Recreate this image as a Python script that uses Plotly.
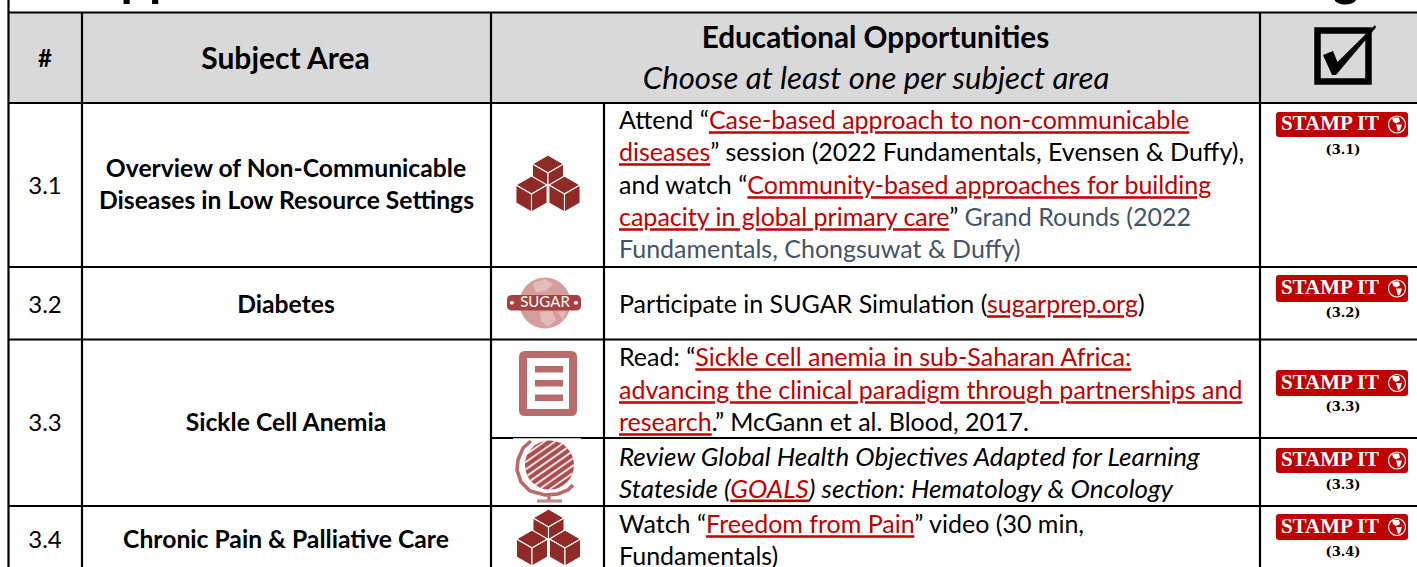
import math
import plotly.graph_objects as go

W, H = 1417, 567
BODY = "Lato"
RED = "#c00000"
SLATE = "#44546a"
MAROON = "#8f2a26"
ROSE = "#b96b6a"
TEXT_DY = 2

# table geometry
COL_EDGES = [8.5, 82, 491, 1260]
COL_SPLIT = 604
ROW_EDGES = [12.5, 103, 267, 339.5, 506]
ROW_SPLIT = 438
HEADER_FILL = "#d9d9d9"

# text
def link(s):
    return f'<span style="color:{RED}"><u>{s}</u></span>'

def slate(s):
    return f'<span style="color:{SLATE}">{s}</span>'

HEAD_BOLD = [("#", 45, 59, 24), ("Subject Area", 285.5, 59, 30), ("Educational Opportunities", 875.5, 39, 29.7)]
HEAD_ITALIC = [("<i>Choose at least one per subject area</i>", 876, 79, 31.2)]
NUMBERS = [("3.1", 45, 186), ("3.2", 45, 305), ("3.3", 45, 423), ("3.4", 45, 540)]
SUBJECTS = [
    ("Overview of Non-Communicable", 286, 169),
    ("Diseases in Low Resource Settings", 286.5, 201),
    ("Diabetes", 286, 305),
    ("Sickle Cell Anemia", 286, 423),
    ("Chronic Pain & Palliative Care", 286, 540),
]
BODY_LINES = [
    ("Attend “" + link("Case-based approach to non-communicable"), 121),
    (link("diseases") + "” session (2022 Fundamentals, Evensen & Duffy),", 153),
    ("and watch “" + link("Community-based approaches for building"), 186),
    (link("capacity in global primary care") + "” " + slate("Grand Rounds (2022"), 218),
    (slate("Fundamentals, Chongsuwat & Duffy)"), 250),
    ("Participate in SUGAR Simulation (" + link("sugarprep.org") + ")", 305),
    ("Read: “" + link("Sickle cell anemia in sub-Saharan Africa:"), 358),
    (link("advancing the clinical paradigm through partnerships and"), 391),
    (link("research") + ".” McGann et al. Blood, 2017.", 423),
    ("Watch “" + link("Freedom from Pain") + "” video (30 min,", 525),
    ("Fundamentals)", 557),
]
ITALIC_LINES = [
    ("<i>Review Global Health Objectives Adapted for Learning</i>", 457),
    ("<i>Stateside (</i>" + "<i>" + link("GOALS") + "</i><i>) section: Hematology & Oncology</i>", 489),
]
BODY_X = 619
TITLE_FRAGMENTS = [("pp", 149, -19), ("g", 1346, -19)]

# stamps: (top, bottom, label, label_y)
STAMPS = [(112, 137, "(3.1)", 151), (275, 302, "(3.2)", 314), (370, 396, "(3.3)", 408),
          (448, 473, "(3.3)", 486), (514, 540, "(3.4)", 553)]
STAMP_LEFT, STAMP_RIGHT = 1276, 1408

# globe stand outline
GLOBE_ARC = [(531, 441), (523, 448), (518, 460), (517, 470), (521, 482), (530, 491),
             (545, 495), (558, 494), (568, 490), (573, 485)]

shapes = []

def rect(x0, y0, x1, y1, fill, line=None, lw=0):
    shapes.append(dict(type="rect", x0=x0, y0=y0, x1=x1, y1=y1, fillcolor=fill,
                       line=dict(color=line or fill, width=lw), layer="below"))

def seg(x0, y0, x1, y1, color="#000000", lw=2.2):
    shapes.append(dict(type="line", x0=x0, y0=y0, x1=x1, y1=y1,
                       line=dict(color=color, width=lw), layer="below"))

def poly(pts, fill, line=None, lw=0):
    d = "M" + " L".join(f"{x:.2f},{y:.2f}" for x, y in pts) + " Z"
    shapes.append(dict(type="path", path=d, fillcolor=fill,
                       line=dict(color=line or fill, width=lw), layer="below"))

def circle(cx, cy, r, fill, line=None, lw=0):
    shapes.append(dict(type="circle", x0=cx - r, y0=cy - r, x1=cx + r, y1=cy + r, fillcolor=fill,
                       line=dict(color=line or fill, width=lw), layer="below"))

def rounded(x0, y0, x1, y1, r, fill):
    d = (f"M{x0+r},{y0} L{x1-r},{y0} Q{x1},{y0} {x1},{y0+r} L{x1},{y1-r} Q{x1},{y1} {x1-r},{y1} "
         f"L{x0+r},{y1} Q{x0},{y1} {x0},{y1-r} L{x0},{y0+r} Q{x0},{y0} {x0+r},{y0} Z")
    shapes.append(dict(type="path", path=d, fillcolor=fill, line=dict(color=fill, width=0), layer="below"))

# header band
rect(COL_EDGES[0], ROW_EDGES[0], W, ROW_EDGES[1], HEADER_FILL)

# check box
rect(1317.5, 30.5, 1368.5, 81.5, HEADER_FILL, "#000000", 6.5)
poly([(1323, 55), (1333, 51), (1337.5, 62), (1375, 25), (1376, 27.5), (1336, 75), (1332, 75)], "#000000")

# cubes
def cube(cx, cy, r):
    w = r * math.sqrt(3) / 2
    top = [(cx, cy - r), (cx + w, cy - r / 2), (cx, cy), (cx - w, cy - r / 2)]
    left = [(cx - w, cy - r / 2), (cx, cy), (cx, cy + r), (cx - w, cy + r / 2)]
    right = [(cx + w, cy - r / 2), (cx, cy), (cx, cy + r), (cx + w, cy + r / 2)]
    for f in (top, left, right):
        poly(f, MAROON, "#ffffff", 1.1)

def cubes(cx, top):
    r = 18
    cube(cx, top + r, r)
    cube(cx - 16.5, top + r + 21, r)
    cube(cx + 16.5, top + r + 21, r)

cubes(548, 155)
cubes(548.5, 509)

# sugar globe
circle(545, 303, 25.5, "#d59e9b")
poly([(533, 283), (545, 279), (553, 284), (546, 291), (536, 292)], "#e3bcba")
poly([(540, 312), (552, 311), (556, 320), (548, 327), (541, 321)], "#e3bcba")
poly([(558, 312), (566, 311), (563, 320)], "#e3bcba")
rounded(507, 295, 581, 310.5, 5, "#a5423f")

# document
rounded(519, 351, 577, 416, 6, ROSE)
rect(527, 358, 569, 409, "#ffffff")
for bar_top in (366, 380, 394.5):
    rect(535, bar_top, 563, bar_top + 6.5, ROSE)

# grid lines
for x in COL_EDGES:
    seg(x, 0 if x == COL_EDGES[0] else ROW_EDGES[0], x, H)
seg(COL_SPLIT, ROW_EDGES[1], COL_SPLIT, H)
for y in ROW_EDGES:
    seg(COL_EDGES[0], y, W, y)
seg(COL_EDGES[2], ROW_SPLIT, W, ROW_SPLIT)

# striped globe
rect(513, 438.2, 581, 504.8, "#ffffff")
GX, GY, GR = 549.5, 465, 24.5
circle(GX, GY, GR, "#a9504f")
for off in range(-22, 24, 6):
    half = math.sqrt(max(GR * GR - off * off, 0))
    ux, uy = math.cos(math.radians(-35)), math.sin(math.radians(-35))
    nx, ny = -uy, ux
    seg(GX + nx * off - ux * half, GY + ny * off - uy * half,
        GX + nx * off + ux * half, GY + ny * off + uy * half, "#f2dedd", 2.0)
shapes.append(dict(type="path", path="M" + " L".join(f"{x},{y}" for x, y in GLOBE_ARC),
                   line=dict(color=ROSE, width=3.6), layer="below"))
seg(549, 495, 549, 500, ROSE, 3.2)
seg(537, 501, 562, 501, "#c78a89", 3.2)

# stamps
for top, bot, _, _ in STAMPS:
    rounded(STAMP_LEFT, top, STAMP_RIGHT, bot, 3, "#c00000")
    cy = (top + bot) / 2
    circle(1397, cy, 8.5, "rgba(0,0,0,0)", "#ffffff", 1.2)
    poly([(1392, cy - 7), (1399, cy - 7), (1400, cy - 3), (1396, cy - 1), (1393, cy - 3)], "#ffffff")
    poly([(1396, cy + 0), (1402, cy + 0), (1400, cy + 6), (1398, cy + 7)], "#ffffff")

fig = go.Figure()

def add_text(items, size, family=BODY, color="#000000", pos="middle center", dy=TEXT_DY):
    fig.add_trace(go.Scatter(
        x=[i[0] for i in items], y=[i[1] + dy for i in items], text=[i[2] for i in items],
        mode="text", textposition=pos, hoverinfo="skip",
        textfont=dict(family=family, size=size, color=color),
    ))

for t, x, y, s in HEAD_BOLD:
    add_text([(x, y, f"<b>{t}</b>")], s)
for t, x, y, s in HEAD_ITALIC:
    add_text([(x, y, t)], s)
add_text([(x, y, t) for t, x, y in NUMBERS], 24)
add_text([(x, y, f"<b>{t}</b>") for t, x, y in SUBJECTS], 24.7)
add_text([(BODY_X, y, t) for t, y in BODY_LINES], 25, pos="middle right")
add_text([(BODY_X, y, t) for t, y in ITALIC_LINES], 26, pos="middle right")
add_text([(x, y, f"<b>{t}</b>") for t, x, y in TITLE_FRAGMENTS], 50)
add_text([(545, 303, "SUGAR")], 15, color="#ffffff", dy=0)
add_text([(512, 303, "•"), (576, 303, "•")], 10, color="#ffffff", dy=0)
add_text([(1330, (t + b) / 2, "<b>STAMP IT</b>") for t, b, _, _ in STAMPS], 21,
         family="Liberation Serif", color="#ffffff", dy=0.5)
add_text([(1343, y, f"<b>{lab}</b>") for _, _, lab, y in STAMPS], 13, family="DejaVu Serif", dy=0)

fig.update_layout(
    width=W, height=H, margin=dict(l=0, r=0, t=0, b=0), showlegend=False,
    paper_bgcolor="#ffffff", plot_bgcolor="#ffffff", shapes=shapes,
    xaxis=dict(range=[0, W], visible=False, fixedrange=True),
    yaxis=dict(range=[H, 0], visible=False, fixedrange=True),
)
fig.write_html("out.html", config={"displayModeBar": False},
               post_script="document.body.style.margin='0';")
